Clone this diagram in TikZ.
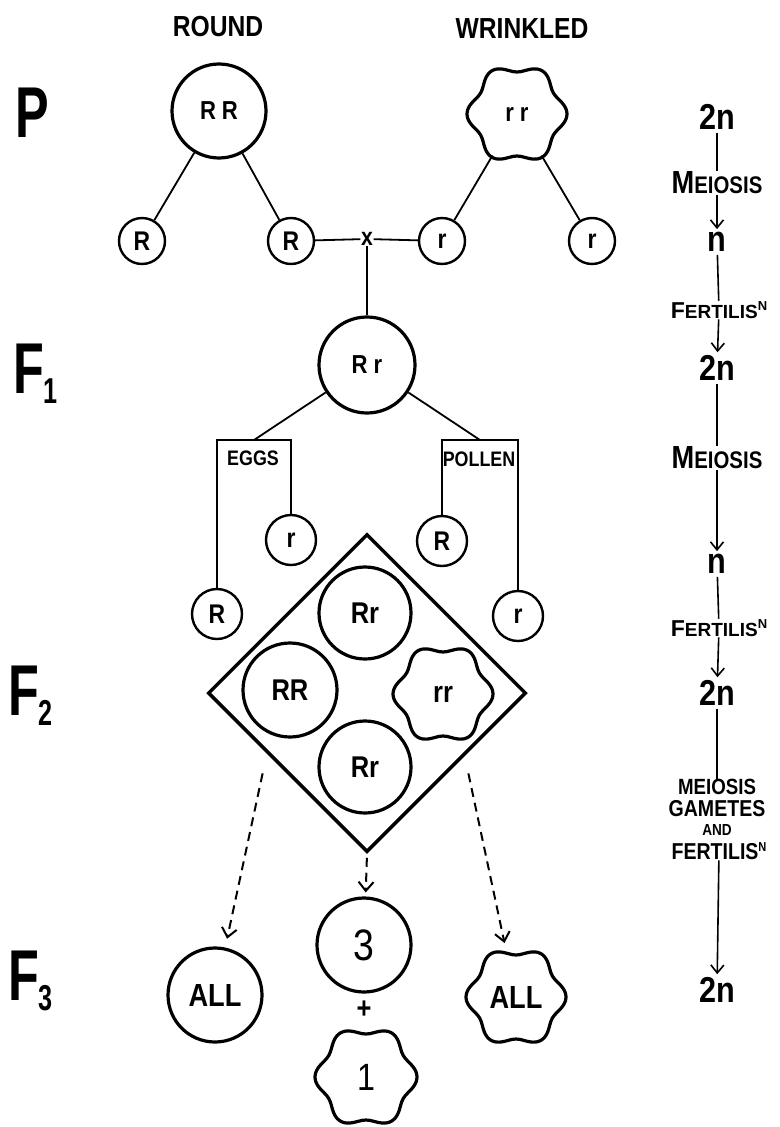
\documentclass[tikz,border=0pt]{standalone}
\usepackage{fontspec}
\setmainfont{Liberation Sans}[FakeStretch=0.85]
\newfontfamily\plainfont{Liberation Sans}
\newfontfamily\genfont{Liberation Sans}[FakeStretch=0.7]
\usetikzlibrary{shapes.geometric, arrows.meta}

\tikzstyle{big} = [circle, draw, line width=3.2pt, minimum size=94pt, inner sep=0pt, font=\fontsize{26}{26}\selectfont\bfseries]
\tikzstyle{seed} = [circle, minimum size=96pt, inner sep=0pt, font=\fontsize{26}{26}\selectfont\bfseries]
\tikzstyle{gamete} = [circle, draw, line width=2.4pt, minimum size=46pt, inner sep=0pt, font=\fontsize{27}{27}\selectfont\bfseries]
\tikzstyle{link} = [line width=1.8pt]
\tikzstyle{arrow} = [line width=1.6pt, -{Straight Barb[length=8pt, width=13pt, line width=1.6pt]}]
\tikzstyle{dasharrow} = [line width=2pt, dash pattern=on 9pt off 6pt, -{Straight Barb[length=9pt, width=15pt, line width=2pt]}]
\tikzstyle{gen} = [anchor=base west, inner sep=0pt, font=\genfont\bfseries\fontsize{72}{72}\selectfont]
\tikzstyle{ploidy} = [inner sep=3pt, font=\fontsize{36}{36}\selectfont\bfseries]
\tikzstyle{phase} = [inner sep=0.5pt, font=\bfseries]
\newcommand{\gensub}[2]{#1\raisebox{-10pt}{\fontsize{36}{36}\selectfont #2}}
\newcommand{\wrinkle}[2]{\draw[line width=3.2pt, shift={(#1.center)}] plot[domain=0:355, samples=72, smooth cycle] (\x:{#2+4*cos(6*\x)});}
\newcommand{\meiosis}{{\fontsize{32}{32}\selectfont M}{\fontsize{24}{24}\selectfont EIOSIS}}
\newcommand{\fertilis}{{\plainfont\bfseries{\fontsize{23}{23}\selectfont F}{\fontsize{19}{19}\selectfont ERTILIS}\raisebox{8pt}{\fontsize{13}{13}\selectfont N}}}

\begin{document}
\begin{tikzpicture}[x=1pt, y=-1pt]
\useasboundingbox (0,0) rectangle (779,1127);

% generation labels
\node[gen] (P) at (15,137) {P};
\node[gen] (Fone) at (13,393) {\gensub{F}{1}};
\node[gen] (Ftwo) at (8,715) {\gensub{F}{2}};
\node[gen] (Fthree) at (8,1000) {\gensub{F}{3}};

% parents
\node[font=\fontsize{29}{29}\selectfont\bfseries] (round) at (218,27) {ROUND};
\node[font=\fontsize{29}{29}\selectfont\bfseries] (wrinkled) at (522,29) {WRINKLED};
\node[big] (RR) at (219,111) {R\hspace{6pt}R};
\node[seed] (rr) at (517,114) {r\hspace{6pt}r};
\wrinkle{rr}{46}

\node[gamete] (RRa) at (142,241) {R};
\node[gamete] (RRb) at (291,241) {R};
\node[gamete] (rra) at (442,241) {r};
\node[gamete] (rrb) at (592,241) {r};
\node[inner sep=0.5pt, font=\fontsize{25}{25}\selectfont\bfseries] (cross) at (367,239) {x};
\draw[link] (RR) -- (RRa);
\draw[link] (RR) -- (RRb);
\draw[link] (rr) -- (rra);
\draw[link] (rr) -- (rrb);
\draw[link] (RRb) -- (cross) -- (rra);

% F1
\node[big, minimum size=96pt] (Rr) at (367,365) {R\hspace{6pt}r};
\draw[link] (cross) -- (Rr);

\coordinate (eggbar) at (254,440);
\coordinate (pollenbar) at (480,440);
\node[font=\fontsize{21}{21}\selectfont\bfseries] (eggs) at (253,458) {EGGS};
\node[font=\fontsize{21}{21}\selectfont\bfseries] (pollen) at (479,459) {POLLEN};
\node[gamete, minimum size=50pt] (eggR) at (217,614) {R};
\node[gamete, minimum size=50pt] (eggr) at (291,540) {r};
\node[gamete, minimum size=50pt] (polR) at (442,541) {R};
\node[gamete, minimum size=50pt] (polr) at (518,616) {r};
\draw[link] (Rr) -- (eggbar);
\draw[link] (Rr) -- (pollenbar);
\draw[link] (eggR.north) |- (eggbar) -| (eggr.north);
\draw[link] (polR.north) |- (pollenbar) -| (polr.north);

% F2
\node[diamond, draw, line width=3.5pt, minimum width=318pt, minimum height=318pt, inner sep=0pt] (square) at (367,693) {};
\node[big, minimum size=92pt, font=\fontsize{30}{30}\selectfont\bfseries] (sqRra) at (365,613) {Rr};
\node[big, minimum size=94pt, font=\fontsize{30}{30}\selectfont\bfseries] (sqRR) at (290,690) {RR};
\node[seed, minimum size=96pt, font=\fontsize{30}{30}\selectfont\bfseries] (sqrr) at (443,694) {rr};
\wrinkle{sqrr}{46}
\node[big, minimum size=92pt, font=\fontsize{30}{30}\selectfont\bfseries] (sqRrb) at (365,767) {Rr};

% F3
\node[big, font=\fontsize{32}{32}\selectfont\bfseries] (allR) at (215,995) {ALL};
\node[big, font=\fontsize{44}{44}\selectfont] (three) at (364,945) {3};
\node[font=\fontsize{30}{30}\selectfont\bfseries] (plus) at (364,1010) {+};
\node[seed, minimum size=98pt, font=\fontsize{38}{38}\selectfont] (one) at (366,1077) {1};
\wrinkle{one}{47}
\node[seed, font=\fontsize{32}{32}\selectfont\bfseries] (allW) at (516,997) {ALL};
\wrinkle{allW}{46}

\draw[dasharrow, shorten >=9pt] ([xshift=-24pt]square.south west) -- (allR);
\draw[dasharrow, shorten >=7pt] ([xshift=21pt]square.south east) -- (allW);
\draw[dasharrow, shorten <=4pt, shorten >=4pt] (square.south) -- (three);

% chromosome numbers
\node[ploidy] (pA) at (717,117) {2n};
\node[phase] (mA) at (717,183) {\meiosis};
\node[ploidy] (hA) at (717,242) {n};
\node[phase] (fA) at (719,310) {\fertilis};
\node[ploidy] (pB) at (717,368) {2n};
\node[phase] (mB) at (717,458) {\meiosis};
\node[ploidy] (hB) at (717,564) {n};
\node[phase] (fB) at (719,628) {\fertilis};
\node[ploidy] (pC) at (717,693) {2n};
\node[phase, font=\fontsize{22}{22}\selectfont\bfseries] (blkA) at (717,787) {MEIOSIS};
\node[phase, font=\fontsize{23}{23}\selectfont\bfseries] (blkB) at (717,809) {GAMETES};
\node[phase, font=\fontsize{16}{16}\selectfont\bfseries] (blkC) at (717,830) {AND};
\node[phase, font=\fontsize{23}{23}\selectfont\bfseries] (blkD) at (719,851) {FERTILIS\raisebox{8pt}{\fontsize{13}{13}\selectfont N}};
\node[ploidy] (pD) at (717,990) {2n};

\draw[link, line width=1.6pt] (pA) -- (mA);
\draw[arrow] (mA) -- (hA);
\draw[link, line width=1.6pt] (hA) -- (fA);
\draw[arrow] (fA) -- (pB);
\draw[link, line width=1.6pt] (pB) -- (mB);
\draw[arrow] (mB) -- (hB);
\draw[link, line width=1.6pt] (hB) -- (fB);
\draw[arrow] (fB) -- (pC);
\draw[link, line width=1.6pt] (pC) -- (blkA);
\draw[arrow] (blkD) -- (pD);
\end{tikzpicture}
\end{document}
